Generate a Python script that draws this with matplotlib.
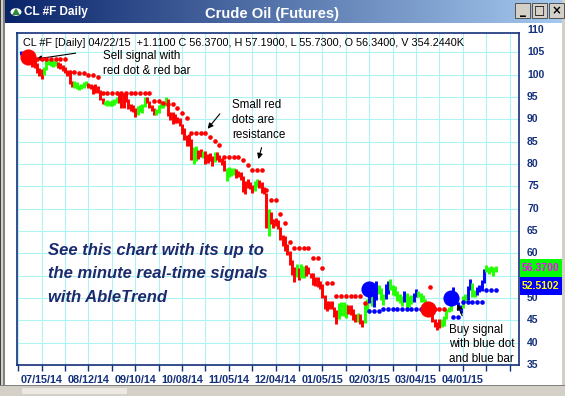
import numpy as np
import matplotlib.pyplot as plt
from matplotlib.patches import Rectangle, Circle, Polygon
from matplotlib.transforms import blended_transform_factory

# daily bars, CL #F, 07/01/14 .. 04/22/15 (one value per bar)
highs = [
    105.2, 105.0, 104.6, 104.2, 104.0, 103.5, 103.4, 102.6, 101.5, 101.2,
    101.6, 103.6, 103.5, 103.6, 103.2, 103.0, 102.9, 102.5, 102.2, 101.6,
    101.0, 100.3, 98.6, 98.5, 98.3, 97.6, 98.0, 98.4, 98.6, 98.2,
    98.0, 97.6, 97.8, 97.4, 96.5, 94.8, 94.2, 94.4, 94.0, 94.3,
    94.6, 95.0, 96.0, 95.6, 95.8, 95.6, 94.6, 93.4, 93.2, 92.6,
    93.0, 93.2, 93.4, 95.0, 94.9, 94.2, 93.2, 92.6, 92.2, 93.2,
    94.0, 93.9, 95.0, 94.6, 91.6, 91.6, 91.2, 90.6, 90.4, 89.0,
    88.0, 86.4, 86.6, 85.6, 83.8, 84.0, 83.2, 83.4, 83.0, 82.8,
    82.3, 82.5, 81.8, 82.6, 82.7, 82.0, 81.4, 80.8, 79.0, 79.4,
    79.0, 79.2, 78.8, 78.4, 78.2, 77.4, 76.2, 76.6, 76.0, 75.4,
    76.2, 76.6, 76.4, 76.0, 74.8, 73.6, 69.9, 69.3, 67.6, 67.8,
    67.5, 65.9, 64.2, 63.8, 62.0, 60.5, 58.5, 56.9, 57.6, 56.8,
    57.7, 57.2, 57.3, 57.0, 55.6, 55.5, 54.6, 54.6, 53.8, 53.1,
    50.6, 49.3, 49.4, 49.3, 48.0, 47.4, 48.8, 49.0, 49.0, 48.6,
    48.5, 48.4, 47.6, 46.4, 46.6, 46.5, 45.0, 48.6, 49.8, 53.6,
    52.6, 51.8, 53.8, 53.0, 52.3, 50.8, 53.2, 53.8, 54.2, 53.0,
    52.6, 51.6, 51.0, 50.4, 51.6, 51.2, 50.4, 50.7, 51.1, 52.0,
    51.6, 51.2, 50.6, 49.8, 48.9, 48.5, 47.4, 45.3, 44.6, 45.2,
    45.4, 46.0, 47.6, 48.0, 49.6, 52.4, 50.8, 49.0, 48.4, 50.4,
    51.0, 52.6, 54.2, 53.4, 51.8, 52.4, 53.0, 54.0, 56.6, 57.4,
    57.0, 57.2, 57.0, 57.19,
]
lows = [
    104.4, 104.2, 103.6, 103.0, 102.6, 101.8, 101.4, 100.3, 99.8, 99.0,
    99.9, 101.0, 102.2, 102.0, 101.8, 101.9, 101.5, 101.2, 100.8, 100.4,
    99.6, 97.8, 97.2, 97.0, 96.8, 96.6, 96.8, 97.1, 97.4, 96.9,
    96.7, 95.6, 95.8, 96.0, 94.4, 93.4, 93.2, 93.0, 92.9, 93.0,
    93.2, 93.6, 93.6, 92.6, 92.5, 93.8, 92.4, 91.8, 91.6, 90.5,
    91.0, 91.6, 91.5, 92.7, 93.6, 92.6, 91.8, 91.0, 90.9, 91.4,
    92.5, 92.6, 92.9, 90.8, 89.9, 88.9, 89.2, 89.2, 88.4, 86.7,
    85.4, 84.0, 84.1, 80.9, 80.0, 80.7, 81.2, 81.6, 81.4, 80.0,
    80.3, 80.6, 79.6, 80.4, 80.8, 80.4, 79.8, 78.4, 76.2, 77.0,
    77.3, 77.6, 76.8, 77.0, 76.4, 73.8, 73.3, 74.6, 74.3, 73.6,
    73.9, 74.8, 74.6, 73.6, 73.3, 65.7, 63.8, 66.6, 65.7, 66.2,
    65.4, 62.9, 61.6, 60.6, 59.6, 57.3, 55.2, 53.6, 54.6, 54.0,
    54.4, 54.5, 55.0, 55.4, 54.4, 52.9, 52.7, 52.4, 52.0, 49.9,
    47.6, 47.0, 47.6, 47.6, 45.8, 44.2, 45.3, 46.0, 45.9, 45.5,
    46.4, 46.1, 45.0, 44.6, 44.6, 44.2, 43.6, 44.5, 46.8, 48.8,
    48.2, 48.0, 49.6, 51.0, 49.6, 48.4, 49.8, 51.0, 51.8, 50.6,
    50.4, 49.4, 48.9, 48.2, 49.2, 47.8, 48.0, 48.6, 49.2, 50.2,
    50.2, 49.2, 49.0, 48.1, 47.2, 46.6, 44.7, 43.6, 42.9, 43.3,
    43.6, 43.8, 45.4, 46.8, 47.2, 49.4, 48.6, 47.4, 46.6, 47.8,
    49.0, 49.6, 51.8, 50.2, 50.2, 50.6, 51.4, 51.6, 53.4, 55.8,
    55.4, 55.8, 55.0, 55.73,
]
# r = down bar, g = neutral bar, b = up bar
bar_colors = ("bgrrrrrrrr" "ggggggrrrr" "rrrggggggr" "rrrrrrgggg" "ggrrrrrrrr"
              "ggggrrrrgg" "gggrrrrrrr" "rrrrggrrgr" "rrrgrrrrgg" "ggrrrrrrrr"
              "ggrrrrgrrr" "rrrrrrrrgr" "ggrrrrrrrr" "rrrrrrgggg" "rrrrgrrggb"
              "gbbgggbbgg" "ggggbgggbb" "ggggrrrrrr" "gggggbbbbg" "gbbggbbbbg"
              "gggg")

nan = float('nan')
# AbleTrend stop dots (resistance above price / support below), per bar
stops = [
    nan, nan, nan, nan, nan, 103.5, 103.5, 103.5, 103.5, 103.5,
    103.5, 103.5, 103.5, 103.5, 103.5, 103.5, 103.5, 103.5, 103.5, 103.5,
    102.8, 100.6, 100.6, 100.6, 100.6, 100.3, 100.3, 100.3, 100.3, 99.9,
    99.9, 99.9, 99.5, 99.5, 96.0, 96.0, 96.0, 96.0, 96.0, 96.0,
    96.0, 96.0, 96.0, 96.0, 96.0, 96.0, 96.0, 96.0, 96.0, 96.0,
    96.0, 96.0, 96.0, 96.0, 96.0, 96.0, 94.0, 94.0, 94.0, 94.0,
    93.6, 93.6, 93.6, 93.4, 93.4, 93.4, 93.4, 92.5, 92.0, 91.4,
    90.8, 90.2, 89.9, 86.9, 86.9, 86.9, 86.9, 86.9, 86.9, 86.9,
    86.5, 86.0, 85.6, 85.2, 84.9, 84.3, 84.3, 81.6, 81.6, 81.6,
    81.6, 81.6, 81.6, 81.6, 81.6, 81.0, 80.4, 79.8, 78.7, 78.7,
    78.7, 78.7, 78.7, 78.7, 78.7, 74.2, 72.0, 72.0, 72.0, 72.0,
    69.7, 68.8, 67.8, 66.8, 63.7, 62.5, 61.2, 61.2, 61.2, 61.2,
    61.2, 61.2, 61.2, 61.2, 61.2, 59.0, 59.0, 59.0, 59.0, 56.7,
    54.5, 53.4, 53.4, 53.4, 52.2, 50.5, 50.5, 50.5, 50.5, 50.5,
    50.5, 50.5, 50.5, 50.5, 50.5, 50.5, 48.9, 48.9, nan, 47.1,
    47.1, 47.1, 47.1, 47.1, 47.6, 47.6, 47.6, 47.6, 47.6, 47.6,
    47.6, 47.6, 47.6, 47.6, 47.6, 47.6, 47.6, 47.6, 47.6, 47.6,
    47.6, 47.6, 47.6, 47.6, nan, 52.5, 47.6, 47.6, 47.6, 47.6,
    47.6, 47.6, 47.6, nan, nan, 45.8, 45.8, 45.8, 45.8, 49.0,
    49.0, 49.0, 49.0, 49.0, 49.0, 49.0, 49.0, 49.0, 51.8, 51.8,
    51.8, 51.8, 51.8, 51.8,
]
uptrend_spans = [(149, 173), (184, 203)]

# big signal dots: (bar, price, kind)
signals = [(3, 104.0, 'sell'), (149, 52.0, 'buy'), (174, 47.5, 'sell'), (184, 50.0, 'buy')]

date_labels = ['07/15/14', '08/12/14', '09/10/14', '10/08/14', '11/05/14',
               '12/04/14', '01/05/15', '02/03/15', '03/04/15', '04/01/15']
price_ticks = [35, 40, 45, 50, 55, 60, 65, 70, 75, 80, 85, 90, 95, 100, 105, 110]
hidden_ticks = [55]   # covered by the last-price box
last_close = '56.3700'
stop_value = '52.5102'
header = ('CL #F [Daily] 04/22/15  +1.1100 C 56.3700, H 57.1900, L 55.7300, '
          'O 56.3400, V 354.2440K')

RED, GREEN, BLUE = '#ff0000', '#22ff00', '#0000ff'
NAVY = '#14307a'
W, H = 565, 396

plt.rcParams['font.family'] = ['Liberation Sans', 'DejaVu Sans']
fig = plt.figure(figsize=(W / 100, H / 100), dpi=100)
fig.patch.set_facecolor('white')


def px_rect(x, y, w, h, **kw):
    fig.add_artist(Rectangle((x / W, 1 - (y + h) / H), w / W, h / H,
                             transform=fig.transFigure, **kw))


# window frame
px_rect(0, 0, 5, H, color='#d4d0c8', lw=0)
px_rect(0, 0, 1, H, color='#404040', lw=0)
px_rect(3, 0, 2, H, color='#808080', lw=0)
px_rect(562, 0, 3, H, color='#d4d0c8', lw=0)
px_rect(0, 386, W, 10, color='#d4d0c8', lw=0)
px_rect(0, 385, W, 1, color='#808080', lw=0)
px_rect(22, 388, 105, 6, color='#ece9e2', lw=0)

# title bar
tb = fig.add_axes([5 / W, 1 - 23 / H, 1 - 5 / W, 23 / H])
grad = np.linspace(0, 1, 256)
c0, c1 = np.array([10, 36, 106]) / 255, np.array([166, 202, 240]) / 255
img = (c0[None, :] * (1 - grad[:, None]) + c1[None, :] * grad[:, None])[None, :, :]
tb.imshow(img, aspect='auto', extent=[0, 1, 0, 1])
tb.set_axis_off()
fig.text(24 / W, 1 - 12.5 / H, 'CL #F Daily', color='white', fontsize=8.5,
         fontweight='bold', va='center')
fig.text(272 / W, 1 - 14 / H, 'Crude Oil (Futures)', color='white', fontsize=10.6,
         fontweight='bold', va='center', ha='center')
fig.add_artist(Circle((16 / W, 1 - 12 / H), 5.5 / W, transform=fig.transFigure,
                      color='white', lw=0))
fig.add_artist(Polygon([(12 / W, 1 - 15 / H), (20 / W, 1 - 15 / H), (16 / W, 1 - 8 / H)],
                       transform=fig.transFigure, color='#2e8b3a', lw=0))
for bx, sym in zip([515, 532, 549], ['_', '\u25a1', '\u00d7']):
    px_rect(bx, 3, 15, 15, facecolor='#d4d0c8', edgecolor='#404040', lw=0.6)
    fig.text((bx + 7.5) / W, 1 - 10.5 / H, sym, ha='center', va='center',
             fontsize=8.5, fontweight='bold', color='black', family='DejaVu Sans')

# chart area
ax = fig.add_axes([16.7 / W, 1 - 365 / H, 502.3 / W, 332 / H])
ax.set_xlim(-1.67, 213)
ax.set_ylim(35, 109.32)
for s in ax.spines.values():
    s.set_color(NAVY)
    s.set_linewidth(1.2)

idx = np.arange(len(highs))
col_map = {'r': RED, 'g': GREEN, 'b': BLUE}
ax.vlines(idx, lows, highs, colors=[col_map[c] for c in bar_colors], lw=2.1, zorder=3)

stops = np.array(stops)
up = np.zeros(len(stops), bool)
for a, b in uptrend_spans:
    up[a:b + 1] = True
shown = idx % 2 == 1          # dots are painted on every other bar
ax.scatter(idx[~up & shown], stops[~up & shown], s=11, color=RED, lw=0, zorder=4)
ax.scatter(idx[up & shown], stops[up & shown], s=11, color=BLUE, lw=0, zorder=4)
for i, p, kind in signals:
    ax.scatter([i], [p], s=135, color=RED if kind == 'sell' else BLUE, lw=0, zorder=5)

# grid: every 10 bars, labels every 20 bars
minor_pos = np.arange(-1, 213, 10)
label_pos = 9 + 20 * np.arange(len(date_labels))
ax.set_xticks(label_pos)
ax.set_xticklabels(date_labels)
ax.set_xticks(minor_pos, minor=True)
ax.tick_params(axis='x', which='both', length=4, width=1, color=NAVY, direction='out',
               labelsize=7.8, labelcolor=NAVY, pad=3)
for t in ax.get_xticklabels():
    t.set_fontweight('bold')
ax.set_yticks(price_ticks[:-1])
ax.tick_params(axis='y', left=False, right=False, labelleft=False)
ax.grid(True, which='both', color='#aef2f2', lw=0.8)
ax.set_axisbelow(True)
tr = blended_transform_factory(ax.transAxes, ax.transData)
for p in price_ticks:
    if p in hidden_ticks:
        continue
    ax.text(1.0 + 8 / 502.3, p, str(p), transform=tr, color=NAVY, fontsize=7.5,
            fontweight='bold', va='center', ha='left', clip_on=False)

# header and notes
arrow = dict(arrowstyle='-|>', color='black', lw=0.8, mutation_scale=8)
ax.text(1.0, 107.1, header, fontsize=7.8, color='black', va='center')
ax.annotate('', xy=(5.4, 103.4), xytext=(24.7, 104.9), arrowprops=arrow)
ax.text(35.2, 102.5, 'Sell signal with\nred dot & red bar', fontsize=8.4, va='center',
        linespacing=1.3)
ax.annotate('', xy=(79.2, 87.4), xytext=(85.9, 91.7), arrowprops=arrow)
ax.text(90.3, 89.85, 'Small red\ndots are\nresistance', fontsize=8.4, va='center',
        linespacing=1.35)
ax.annotate('', xy=(101.3, 80.5), xytext=(103.3, 84.25), arrowprops=arrow)
ax.annotate('', xy=(186.1, 49.2), xytext=(189.2, 45.45), arrowprops=arrow)
ax.text(183.1, 39.6, 'Buy signal\nwith blue dot\nand blue bar', fontsize=8.4, va='center',
        linespacing=1.3)
ax.text(11.7, 55.4, 'See this chart with its up to\nthe minute real-time signals\nwith AbleTrend',
        fontsize=12, fontweight='bold', style='italic', color='#1c2a6e', va='center',
        linespacing=1.7)

# last price / stop boxes on the price scale (stacked)
for lo, hi, txt, fc, tc in [(54.7, 58.73, last_close, '#00ff00', '#ff00ff'),
                            (50.67, 54.7, stop_value, '#0000ff', '#ffff00')]:
    ax.add_patch(Rectangle((1.0 + 1 / 502.3, lo), 0.1, hi - lo, transform=tr,
                           facecolor=fc, lw=0, clip_on=False, zorder=6))
    ax.text(1.0 + 3 / 502.3, (lo + hi) / 2, txt, transform=tr, color=tc, fontsize=7.5,
            fontweight='bold', va='center', ha='left', clip_on=False, zorder=7)

fig.savefig('out.png', dpi=100)
